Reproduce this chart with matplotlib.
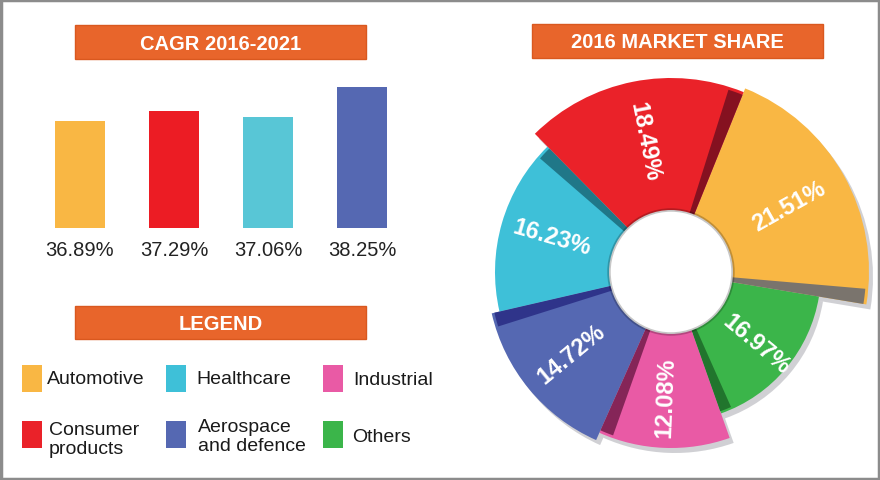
import matplotlib
matplotlib.use('Agg')
import matplotlib.pyplot as plt
from matplotlib.patches import Rectangle, Wedge, Circle
import numpy as np

# ---------------- data ----------------
bar_categories = ['Automotive', 'Consumer products', 'Healthcare', 'Aerospace and defence']
cagr = [36.89, 37.29, 37.06, 38.25]
cagr_labels = ['36.89%', '37.29%', '37.06%', '38.25%']

pie_categories = ['Automotive', 'Others', 'Industrial', 'Aerospace and defence',
                  'Healthcare', 'Consumer products']
share = [21.51, 16.97, 12.08, 14.72, 16.23, 18.49]
share_labels = ['21.51%', '16.97%', '12.08%', '14.72%', '16.23%', '18.49%']

legend_labels = ['Automotive', 'Healthcare', 'Industrial',
                 'Consumer\nproducts', 'Aerospace\nand defence', 'Others']
legend_keys = ['Automotive', 'Healthcare', 'Industrial',
               'Consumer products', 'Aerospace and defence', 'Others']

colors = {
    'Automotive': '#F9B744',
    'Consumer products': '#EA2229',
    'Healthcare': '#3EC0D8',
    'Aerospace and defence': '#5568B2',
    'Industrial': '#E95AA5',
    'Others': '#3BB54A',
}
bar_colors = {
    'Automotive': '#F9B744',
    'Consumer products': '#EC1C24',
    'Healthcare': '#58C6D6',
    'Aerospace and defence': '#5568B2',
}
dark = {
    'Automotive': '#6c6d72',
    'Consumer products': '#7a1020',
    'Healthcare': '#1d6f80',
    'Aerospace and defence': '#2b2f86',
    'Industrial': '#7a2050',
    'Others': '#1f6e2a',
}
# style: outer radius (px) of each pie wedge
pie_radius = {
    'Automotive': 198, 'Others': 150, 'Industrial': 176,
    'Aerospace and defence': 184, 'Healthcare': 176, 'Consumer products': 194,
}
R_IN = 61
ORANGE = '#E8652B'

plt.rcParams['font.family'] = ['Liberation Sans', 'DejaVu Sans']

W, H = 880, 481
fig = plt.figure(figsize=(W / 100, H / 100), dpi=100)
fig.patch.set_facecolor('white')

# pixel-coordinate overlay axes
ax0 = fig.add_axes([0, 0, 1, 1])
ax0.set_xlim(0, W)
ax0.set_ylim(H, 0)
ax0.axis('off')


def header(x0, y0, x1, y1, text):
    ax0.add_patch(Rectangle((x0, y0), x1 - x0, y1 - y0, facecolor=ORANGE,
                            edgecolor='#d9581f', lw=1))
    ax0.text((x0 + x1) / 2, (y0 + y1) / 2 + 1, text, color='white', fontsize=14.5,
             fontweight='bold', ha='center', va='center')


header(75, 26, 366, 60, 'CAGR 2016-2021')
header(532, 25, 823, 59, '2016 MARKET SHARE')
header(75, 307, 366, 340, 'LEGEND')

# legend
sw_x = [22, 166, 323, 22, 166, 323]
sw_y = [366, 366, 366, 422, 422, 422]
tx_x = [47, 196, 353, 49, 198, 352]
tx_y = [380, 380, 381, 440, 437, 438]
for lab, key, sx, sy, tx, ty in zip(legend_labels, legend_keys, sw_x, sw_y, tx_x, tx_y):
    ax0.add_patch(Rectangle((sx, sy), 20, 27, facecolor=colors[key], edgecolor='none'))
    ax0.text(tx, ty, lab, fontsize=14, color='#1a1a1a', ha='left', va='center',
             linespacing=1.15)

# border
ax0.add_patch(Rectangle((1, 1), W - 2, H - 2, facecolor='none', edgecolor='#8c8c8c', lw=2.5))

# ---------------- bar chart ----------------
base = 32.61
ppu = 25.0  # px per unit
axb = fig.add_axes([33 / W, 1 - 229 / H, 376 / W, 169 / H])
axb.set_xlim(-0.5, 3.5)
axb.set_ylim(base, base + 169 / ppu)
axb.axis('off')
x = np.arange(len(cagr))
axb.bar(x, np.array(cagr) - base, bottom=base, width=0.53,
        color=[bar_colors[c] for c in bar_categories], edgecolor='none')
for xi, lab in zip(x, cagr_labels):
    axb.annotate(lab, (xi, base), xytext=(0, -15.5), textcoords='offset points',
                 ha='center', va='center', fontsize=14.5, color='#222222',
                 annotation_clip=False)

# ---------------- pie chart ----------------
cx, cy = 671, 273
half = 220
axp = fig.add_axes([(cx - half) / W, 1 - (cy + half) / H, 2 * half / W, 2 * half / H])
axp.axis('off')

wedges, _ = axp.pie(share, colors=[colors[c] for c in pie_categories], startangle=68,
                    counterclock=False, radius=150,
                    wedgeprops=dict(width=150 - R_IN, linewidth=0))
axp.set_xlim(-half, half)
axp.set_ylim(-half, half)
axp.set_aspect('equal', adjustable='box')

for w, cat, lab in zip(wedges, pie_categories, share_labels):
    r = pie_radius[cat]
    w.set_radius(r)
    w.set_width(r - R_IN)
    w.set_zorder(3)
    t1, t2 = w.theta1, w.theta2
    # drop shadow
    axp.add_patch(Wedge((4, -5), r, t1, t2, width=r - R_IN, facecolor='#7a7b85',
                        alpha=0.35, lw=0, zorder=1))
    # dark side strip on the clockwise edge
    axp.add_patch(Wedge((0, 0), r * 0.985, t1, t1 + 4.5, width=r * 0.985 - R_IN,
                        facecolor=dark[cat], lw=0, alpha=0.9, zorder=4))
    mid = (t1 + t2) / 2
    rt = (R_IN + r) / 2 + 6
    tx = rt * np.cos(np.radians(mid))
    ty = rt * np.sin(np.radians(mid))
    rot = ((mid + 180) % 360) - 180
    if rot > 90:
        rot -= 180
    elif rot < -90:
        rot += 180
    axp.text(tx, ty, lab, color='white', fontsize=17, fontweight='bold',
             ha='center', va='center', rotation=rot, rotation_mode='anchor', zorder=6)

axp.add_patch(Circle((0, 0), R_IN + 1, facecolor='white', edgecolor=(0, 0, 0, 0.22),
                     lw=2.5, zorder=5))

fig.savefig('out.png', dpi=100)
